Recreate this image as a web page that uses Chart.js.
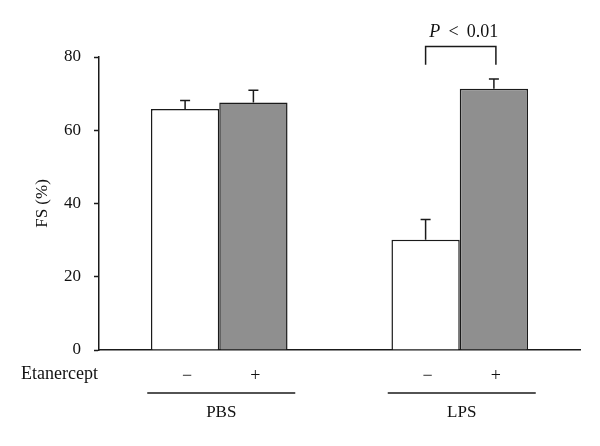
<!DOCTYPE html>
<html>
<head>
<meta charset="utf-8">
<script src="https://cdn.jsdelivr.net/npm/chart.js@4/dist/chart.umd.min.js"></script>
<style>
  html, body { margin: 0; padding: 0; background: #fff; }
  #wrap { width: 600px; height: 446px; }
</style>
</head>
<body>
<div id="wrap"><canvas id="fs-chart" width="600" height="446"></canvas></div>
<script>
// groups and the two treatment series
var groups = ['PBS', 'LPS'];
var treatLabels = ['\u2212', '+'];
var noEtan = [65.8, 30.1];
var noEtanErr = [2.3, 5.5];
var withEtan = [67.6, 71.3];
var withEtanErr = [3.3, 2.7];
var yTicks = [0, 20, 40, 60, 80];
var sigText = 'P \u2009<\u2009 0.01';

var FONT = '"Liberation Serif", "Times New Roman", serif';

// error bars, significance bracket and the labels under the x axis
var extras = {
    id: 'extras',
    afterDatasetsDraw: function(chart) {
        var ctx = chart.ctx;
        var y = chart.scales.y;
        var x = chart.scales.x;
        var errs = [noEtanErr, withEtanErr];
        ctx.save();
        ctx.strokeStyle = '#1a1a1a';
        ctx.lineWidth = 1.5;
        errs.forEach(function(err, d) {
            var meta = chart.getDatasetMeta(d);
            meta.data.forEach(function(bar, i) {
                var v = chart.data.datasets[d].data[i];
                var top = y.getPixelForValue(v + err[i]);
                ctx.beginPath();
                ctx.moveTo(bar.x, bar.y);
                ctx.lineTo(bar.x, top);
                ctx.moveTo(bar.x - 5, top);
                ctx.lineTo(bar.x + 5, top);
                ctx.stroke();
            });
        });

        // bracket over LPS
        var b0 = chart.getDatasetMeta(0).data[1];
        var b1 = chart.getDatasetMeta(1).data[1];
        var legY = y.getPixelForValue(77.9);
        var topY = y.getPixelForValue(82.9);
        ctx.beginPath();
        ctx.moveTo(b0.x, legY);
        ctx.lineTo(b0.x, topY);
        ctx.lineTo(b1.x + 2, topY);
        ctx.lineTo(b1.x + 2, legY);
        ctx.stroke();

        ctx.fillStyle = '#111';
        ctx.textBaseline = 'middle';
        ctx.textAlign = 'left';
        var cx = (b0.x + b1.x) / 2 + 4;
        var ty = y.getPixelForValue(86.7);
        ctx.font = 'italic 18px ' + FONT;
        var pW = ctx.measureText('P').width;
        ctx.font = '18px ' + FONT;
        var restW = ctx.measureText(sigText.slice(1)).width;
        var sx = cx - (pW + restW) / 2;
        ctx.font = 'italic 18px ' + FONT;
        ctx.fillText('P', sx, ty);
        ctx.font = '18px ' + FONT;
        ctx.fillText(sigText.slice(1), sx + pW, ty);

        // treatment signs
        var base = y.getPixelForValue(0);
        ctx.textAlign = 'center';
        ctx.font = '18px ' + FONT;
        [0, 1].forEach(function(d) {
            chart.getDatasetMeta(d).data.forEach(function(bar) {
                ctx.fillText(treatLabels[d], bar.x + 2, base + 26);
            });
        });
        ctx.textAlign = 'left';
        ctx.fillText('Etanercept', 21, base + 24);

        // group lines and names
        ctx.font = '17px ' + FONT;
        ctx.textAlign = 'center';
        ctx.lineWidth = 1.3;
        groups.forEach(function(g, i) {
            var gx = x.getPixelForValue(i) + 2;
            ctx.beginPath();
            ctx.moveTo(gx - 74, base + 43);
            ctx.lineTo(gx + 74, base + 43);
            ctx.stroke();
            ctx.fillText(g, gx, base + 63);
        });
        ctx.restore();
    }
};

new Chart(document.getElementById('fs-chart').getContext('2d'), {
    type: 'bar',
    data: {
        labels: groups,
        datasets: [{
            label: 'Etanercept \u2212',
            data: noEtan,
            backgroundColor: '#ffffff',
            borderColor: '#1a1a1a',
            borderWidth: 1.5
        }, {
            label: 'Etanercept +',
            data: withEtan,
            backgroundColor: '#8f8f8f',
            borderColor: '#1a1a1a',
            borderWidth: 1.5
        }]
    },
    options: {
        responsive: false,
        animation: false,
        events: [],
        layout: { padding: { left: 0, right: 20, top: 57, bottom: 0 } },
        plugins: { legend: { display: false }, tooltip: { enabled: false } },
        datasets: { bar: { categoryPercentage: 0.568, barPercentage: 1.0 } },
        scales: {
            x: {
                ticks: { display: false },
                grid: { display: false },
                border: { display: true, color: '#1a1a1a', width: 1.5 },
                afterFit: function(s) { s.height = 96; }
            },
            y: {
                min: 0,
                max: 80,
                afterBuildTicks: function(s) {
                    s.ticks = yTicks.map(function(v) { return { value: v }; });
                },
                ticks: {
                    color: '#111',
                    font: { family: FONT, size: 17 },
                    padding: 13
                },
                grid: {
                    drawOnChartArea: false,
                    drawTicks: true,
                    tickLength: 5,
                    tickWidth: 1.5,
                    color: '#1a1a1a'
                },
                border: { display: true, color: '#1a1a1a', width: 1.5 },
                title: {
                    display: true,
                    text: 'FS (%)',
                    color: '#111',
                    font: { family: FONT, size: 17 },
                    padding: { top: 32, bottom: 0 }
                },
                afterFit: function(s) { s.width = 99; }
            }
        }
    },
    plugins: [extras]
});
</script>
</body>
</html>
